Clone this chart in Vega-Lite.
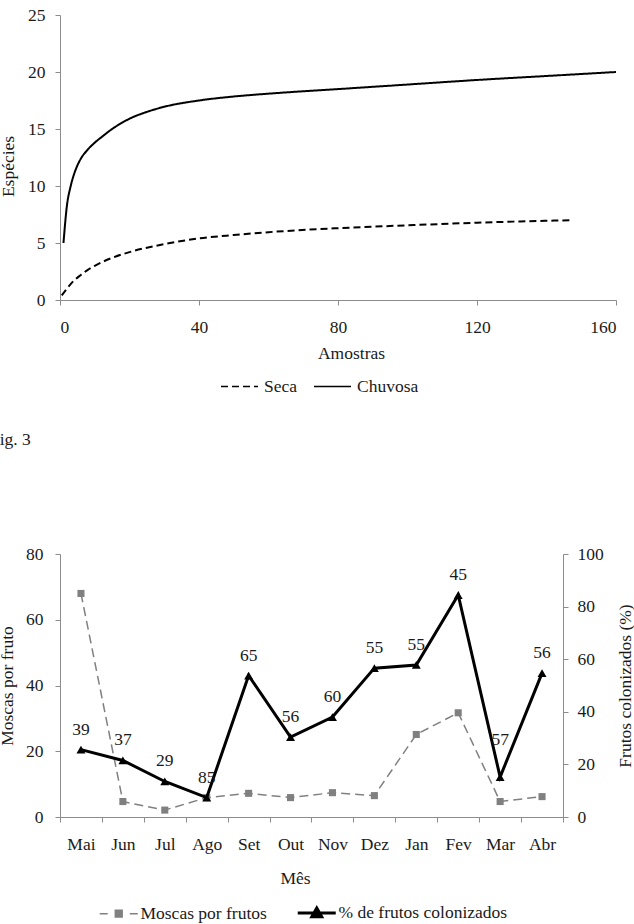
{
  "$schema": "https://vega.github.io/schema/vega-lite/v6.json",
  "padding": {"left": -10, "top": 6, "right": 0, "bottom": 0},
  "spacing": 68,
  "datasets": {
    "curvas": [
      {"amostras": 1, "especies": 5.0, "serie": "Chuvosa"},
      {"amostras": 2, "especies": 8.3, "serie": "Chuvosa"},
      {"amostras": 3, "especies": 9.9, "serie": "Chuvosa"},
      {"amostras": 4, "especies": 11.0, "serie": "Chuvosa"},
      {"amostras": 5, "especies": 11.8, "serie": "Chuvosa"},
      {"amostras": 6, "especies": 12.4, "serie": "Chuvosa"},
      {"amostras": 8, "especies": 13.2, "serie": "Chuvosa"},
      {"amostras": 10, "especies": 13.8, "serie": "Chuvosa"},
      {"amostras": 12, "especies": 14.3, "serie": "Chuvosa"},
      {"amostras": 15, "especies": 15.0, "serie": "Chuvosa"},
      {"amostras": 20, "especies": 15.9, "serie": "Chuvosa"},
      {"amostras": 25, "especies": 16.5, "serie": "Chuvosa"},
      {"amostras": 30, "especies": 16.95, "serie": "Chuvosa"},
      {"amostras": 40, "especies": 17.5, "serie": "Chuvosa"},
      {"amostras": 50, "especies": 17.85, "serie": "Chuvosa"},
      {"amostras": 60, "especies": 18.1, "serie": "Chuvosa"},
      {"amostras": 80, "especies": 18.5, "serie": "Chuvosa"},
      {"amostras": 100, "especies": 18.9, "serie": "Chuvosa"},
      {"amostras": 120, "especies": 19.3, "serie": "Chuvosa"},
      {"amostras": 140, "especies": 19.65, "serie": "Chuvosa"},
      {"amostras": 160, "especies": 20.0, "serie": "Chuvosa"},
      {"amostras": 0.5, "especies": 0.4, "serie": "Seca"},
      {"amostras": 2, "especies": 1.0, "serie": "Seca"},
      {"amostras": 4, "especies": 1.7, "serie": "Seca"},
      {"amostras": 6, "especies": 2.2, "serie": "Seca"},
      {"amostras": 8, "especies": 2.65, "serie": "Seca"},
      {"amostras": 10, "especies": 3.0, "serie": "Seca"},
      {"amostras": 15, "especies": 3.7, "serie": "Seca"},
      {"amostras": 20, "especies": 4.2, "serie": "Seca"},
      {"amostras": 30, "especies": 4.9, "serie": "Seca"},
      {"amostras": 40, "especies": 5.4, "serie": "Seca"},
      {"amostras": 50, "especies": 5.7, "serie": "Seca"},
      {"amostras": 60, "especies": 5.95, "serie": "Seca"},
      {"amostras": 80, "especies": 6.3, "serie": "Seca"},
      {"amostras": 100, "especies": 6.55, "serie": "Seca"},
      {"amostras": 120, "especies": 6.78, "serie": "Seca"},
      {"amostras": 140, "especies": 6.95, "serie": "Seca"},
      {"amostras": 147, "especies": 7.0, "serie": "Seca"}
    ],
    "meses": [
      {"mes": "Mai", "moscas": 68, "colonizados": 25.6, "rotulo": "39"},
      {"mes": "Jun", "moscas": 4.7, "colonizados": 21.5, "rotulo": "37"},
      {"mes": "Jul", "moscas": 2.1, "colonizados": 13.5, "rotulo": "29"},
      {"mes": "Ago", "moscas": 5.9, "colonizados": 7.4, "rotulo": "85"},
      {"mes": "Set", "moscas": 7.2, "colonizados": 53.8, "rotulo": "65"},
      {"mes": "Out", "moscas": 5.9, "colonizados": 30.4, "rotulo": "56"},
      {"mes": "Nov", "moscas": 7.4, "colonizados": 38.0, "rotulo": "60"},
      {"mes": "Dez", "moscas": 6.5, "colonizados": 56.6, "rotulo": "55"},
      {"mes": "Jan", "moscas": 25.1, "colonizados": 57.8, "rotulo": "55"},
      {"mes": "Fev", "moscas": 31.7, "colonizados": 84.4, "rotulo": "45"},
      {"mes": "Mar", "moscas": 4.7, "colonizados": 15.2, "rotulo": "57"},
      {"mes": "Abr", "moscas": 6.2, "colonizados": 54.7, "rotulo": "56"}
    ]
  },
  "vconcat": [
    {
      "width": 556,
      "height": 285,
      "data": {"name": "curvas"},
      "mark": {"type": "line", "strokeWidth": 2, "interpolate": "monotone", "color": "#000000"},
      "encoding": {
        "x": {"field": "amostras", "type": "quantitative", "scale": {"domain": [0, 160], "nice": false},
          "axis": {"values": [0, 40, 80, 120, 160], "title": "Amostras", "titleX": 291, "titlePadding": 9, "labelPadding": 13}},
        "y": {"field": "especies", "type": "quantitative", "scale": {"domain": [0, 25], "nice": false},
          "axis": {"values": [0, 5, 10, 15, 20, 25], "title": "Espécies", "titleY": 151, "labelPadding": 10, "titlePadding": 10}},
        "strokeDash": {"field": "serie", "type": "nominal",
          "scale": {"domain": ["Seca", "Chuvosa"], "range": [[7, 4], [1, 0]]},
          "legend": {"title": null, "orient": "none", "legendX": 160, "legendY": 352, "direction": "horizontal",
            "symbolType": "stroke", "symbolSize": 1369, "symbolStrokeWidth": 1.5, "symbolStrokeColor": "#000000",
            "labelOffset": 5, "columnPadding": 13}}
      }
    },
    {
      "width": 503,
      "height": 263,
      "title": {"text": "Fig. 3", "anchor": "start", "frame": "group", "dx": -70, "offset": 97},
      "data": {"name": "meses"},
      "encoding": {
        "x": {"field": "mes", "type": "nominal", "sort": null, "bandPosition": 0.5,
          "scale": {"type": "band", "paddingInner": 0, "paddingOuter": 0},
          "axis": {"title": "Mês", "labelAngle": 0, "tickBand": "extent", "titleX": 235, "titlePadding": 17, "labelPadding": 13}}
      },
      "layer": [
        {
          "encoding": {
            "y": {"field": "moscas", "type": "quantitative", "scale": {"domain": [0, 80], "nice": false},
              "axis": {"orient": "left", "title": "Moscas por fruto", "values": [0, 20, 40, 60, 80], "labelPadding": 12, "titlePadding": 9}}
          },
          "layer": [
            {"mark": {"type": "line", "strokeDash": [9, 5], "strokeWidth": 1.5},
              "encoding": {"color": {"datum": "Moscas por frutos", "type": "nominal",
                "scale": {"domain": ["Moscas por frutos", "% de frutos colonizados"], "range": ["#808080", "#000000"]},
                "legend": {"title": null, "orient": "none", "legendX": 50, "legendY": 889, "direction": "horizontal",
                  "symbolSize": 1444, "columnPadding": 24, "labelOffset": 13, "labelLimit": 0,
                  "encode": {"symbols": {"update": {
                    "shape": {"signal": "datum.value === 'Moscas por frutos' ? 'M-1,0H-0.58M0.58,0H1M-0.18,-0.18H0.18V0.18H-0.18Z' : 'M-1,0H1M0,-0.26L0.26,0.2H-0.26Z'"},
                    "strokeWidth": {"signal": "datum.value === 'Moscas por frutos' ? 1.5 : 3"},
                    "fill": {"signal": "datum.value === 'Moscas por frutos' ? '#808080' : '#000000'"},
                    "stroke": {"signal": "datum.value === 'Moscas por frutos' ? '#808080' : '#000000'"},
                    "fillOpacity": {"value": 1},
                    "opacity": {"value": 1}
                  }}}}}}},
            {"mark": {"type": "point", "shape": "square", "filled": true, "size": 50, "opacity": 1},
              "encoding": {"color": {"datum": "Moscas por frutos", "type": "nominal"}}}
          ]
        },
        {
          "encoding": {
            "y": {"field": "colonizados", "type": "quantitative", "scale": {"domain": [0, 100], "nice": false},
              "axis": {"orient": "right", "title": "Frutos colonizados (%)", "titleAngle": 270, "values": [0, 20, 40, 60, 80, 100], "labelPadding": 9, "titlePadding": 31}}
          },
          "layer": [
            {"mark": {"type": "line", "strokeWidth": 3},
              "encoding": {"color": {"datum": "% de frutos colonizados", "type": "nominal"}}},
            {"mark": {"type": "point", "shape": "triangle-up", "filled": true, "size": 80, "opacity": 1},
              "encoding": {"color": {"datum": "% de frutos colonizados", "type": "nominal"}}},
            {"transform": [{"filter": "datum.mes !== 'Mar'"}],
              "mark": {"type": "text", "dy": -20, "fontSize": 17.5, "font": "Liberation Serif", "color": "#1a1a1a"},
              "encoding": {"text": {"field": "rotulo", "type": "nominal"}}},
            {"transform": [{"filter": "datum.mes === 'Mar'"}],
              "mark": {"type": "text", "dy": -37, "fontSize": 17.5, "font": "Liberation Serif", "color": "#1a1a1a"},
              "encoding": {"text": {"field": "rotulo", "type": "nominal"}}}
          ]
        }
      ],
      "resolve": {"scale": {"y": "independent"}}
    }
  ],
  "config": {
    "font": "Liberation Serif",
    "view": {"stroke": null},
    "axis": {
      "labelFont": "Liberation Serif", "labelFontSize": 17.5, "labelColor": "#1a1a1a",
      "titleFont": "Liberation Serif", "titleFontSize": 17.5, "titleFontWeight": "normal", "titleColor": "#1a1a1a",
      "domainColor": "#8c8c8c", "tickColor": "#8c8c8c", "grid": false, "tickSize": 5
    },
    "legend": {"labelFont": "Liberation Serif", "labelFontSize": 17.5, "labelColor": "#1a1a1a", "padding": 0},
    "title": {"font": "Liberation Serif", "fontSize": 17.5, "fontWeight": "normal", "color": "#1a1a1a"}
  }
}
